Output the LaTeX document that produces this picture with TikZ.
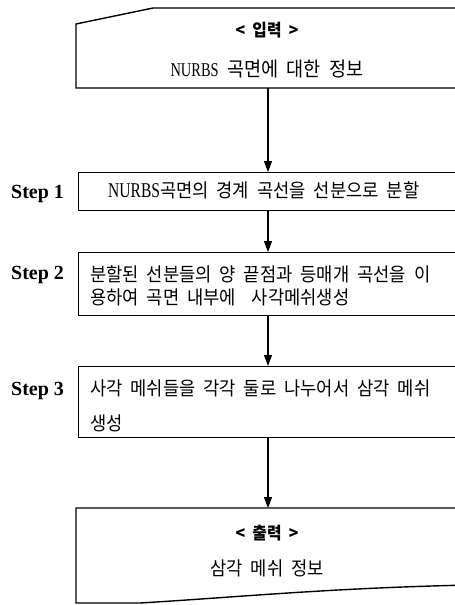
\documentclass[tikz,border=0pt]{standalone}
\usepackage{fontspec}
\setmainfont{Liberation Serif}
\newfontfamily\kr{Noto Sans CJK KR}[FakeStretch=0.93,WordSpace=2.0]
\newfontfamily\latc{Liberation Serif}[FakeStretch=0.74]
\usetikzlibrary{arrows.meta}
\begin{document}
\begin{tikzpicture}[x=1pt,y=-1pt,
  boxline/.style={draw=black,line width=1.4pt},
  arr/.style={draw=black,line width=1.2pt,-{Triangle[width=8pt,length=11pt]}},
  steplabel/.style={anchor=base west,inner sep=0pt,font=\fontsize{20}{20}\selectfont\bfseries},
  ktext/.style={inner sep=0pt,font=\kr\fontsize{19}{20}\selectfont},
  ktitle/.style={inner sep=0pt,anchor=base,font=\kr\bfseries\fontsize{17}{18}\selectfont},
  ]
\useasboundingbox[fill=white] (0,0) rectangle (455,605);
\coordinate (ax) at (268,0);
% input shape
\draw[boxline] (470,8) -- (153,8) -- (76,24) -- (76,88) -- (470,88);
\node[draw=none,minimum width=394pt,minimum height=80pt,anchor=north west,inner sep=0pt] (in) at (76,8) {};
\node[ktitle] (inT) at (267,36) {< 입력 >};
\node[ktext,anchor=base,font=\kr\fontsize{20}{20}\selectfont] (inD) at (267,76) {{\latc\fontsize{19.5}{20}\selectfont NURBS} 곡면에 대한 정보};
% step boxes
\node[boxline,minimum width=394pt,minimum height=38pt,anchor=north west,inner sep=0pt] (s1) at (78,172) {};
\node[boxline,minimum width=394pt,minimum height=63pt,anchor=north west,inner sep=0pt] (s2) at (78,252) {};
\node[boxline,minimum width=394pt,minimum height=71pt,anchor=north west,inner sep=0pt] (s3) at (78,366) {};
\node[steplabel] (l1) at (11,198) {Step 1};
\node[steplabel] (l2) at (11,279) {Step 2};
\node[steplabel] (l3) at (11,395) {Step 3};
\node[ktext,anchor=base west] (t1) at (108,197) {{\latc\fontsize{21}{20}\selectfont NURBS}곡면의 경계 곡선을 선분으로 분할};
\node[ktext,anchor=base west] (t2a) at (90,281) {분할된 선분들의 양 끝점과 등매개 곡선을 이};
\node[ktext,anchor=base west] (t2b) at (90,304) {용하여 곡면 내부에 \ 사각메쉬생성};
\node[ktext,anchor=base west] (t3a) at (90,395) {사각 메쉬들을 각각 둘로 나누어서 삼각 메쉬};
\node[ktext,anchor=base west] (t3b) at (90,430) {생성};
% output shape
\draw[boxline] (470,508) -- (76,508) -- (76,603) -- (140,603)
  .. controls (240,597) and (330,588) .. (470,585);
\node[draw=none,minimum width=394pt,minimum height=95pt,anchor=north west,inner sep=0pt] (out) at (76,508) {};
\node[ktitle] (outT) at (267,539) {< 출력 >};
\node[ktext,anchor=base] (outD) at (267,575) {삼각 메쉬 정보};
% arrows
\draw[arr] (in.south -| ax) -- (s1.north -| ax);
\draw[arr] (s1.south -| ax) -- (s2.north -| ax);
\draw[arr] (s2.south -| ax) -- (s3.north -| ax);
\draw[arr] (s3.south -| ax) -- (out.north -| ax);
\end{tikzpicture}
\end{document}
